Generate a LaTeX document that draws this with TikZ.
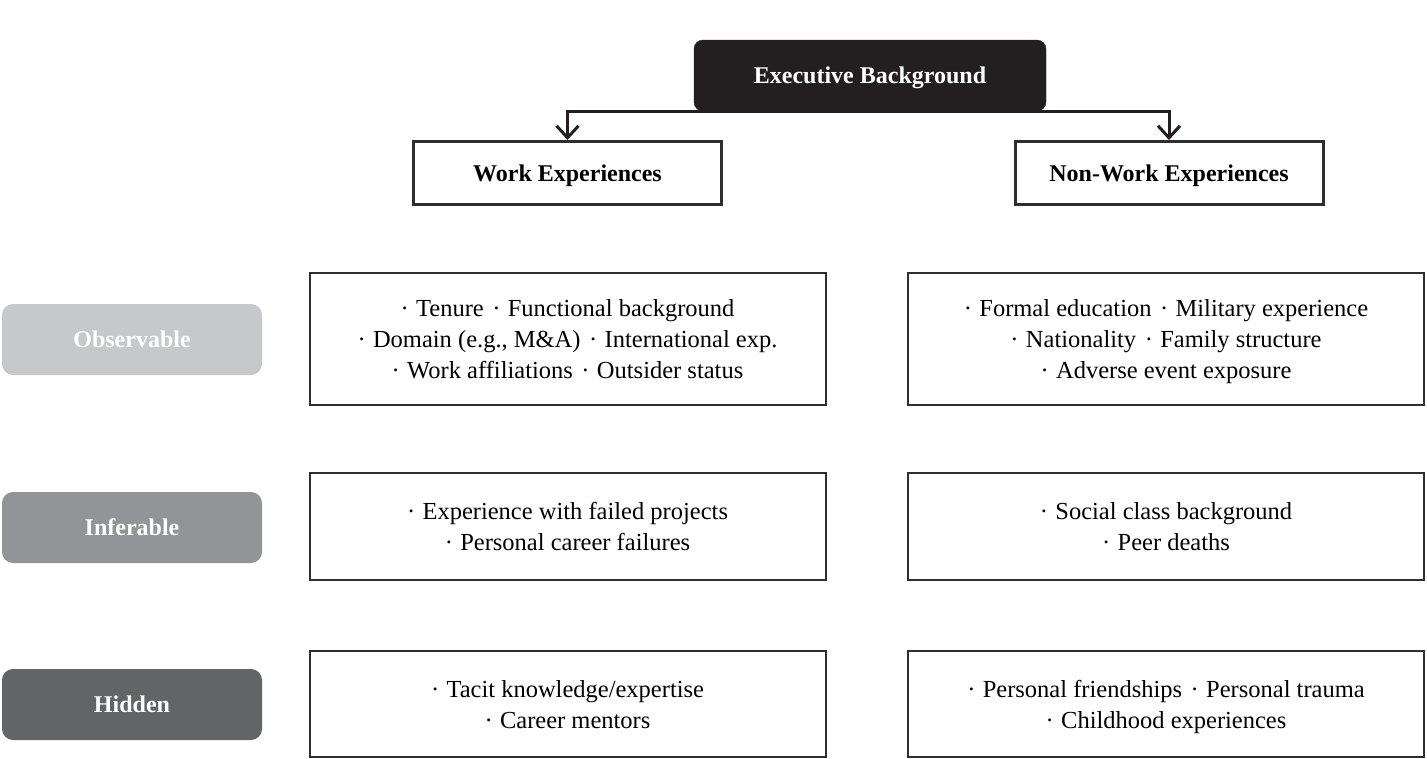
\documentclass[tikz,border=0pt]{standalone}
\usepackage{fontspec}
\setmainfont{Liberation Serif}
\usetikzlibrary{arrows.meta}
\definecolor{obsgray}{HTML}{C7C8CA}
\definecolor{infgray}{HTML}{939497}
\definecolor{hidgray}{HTML}{636466}
\definecolor{execblack}{HTML}{231F20}
\definecolor{edgegray}{HTML}{2E2E2E}
\newcommand{\bul}{·\hspace{0.3em}}
\newcommand{\sep}{\hspace{0.35em}·\hspace{0.3em}}
\tikzset{
  execbox/.style={fill=execblack, draw=execblack, rounded corners=9pt, text=white,
    minimum width=352pt, minimum height=71pt, inner sep=0pt, text depth=0pt,
    font=\fontsize{24}{30}\selectfont\bfseries},
  headbox/.style={draw=edgegray, line width=3pt, fill=white,
    minimum width=308pt, minimum height=63pt, inner sep=0pt, text depth=0pt,
    font=\fontsize{24}{30}\selectfont\bfseries},
  levelbox/.style={rounded corners=11pt, text=white, draw=none,
    minimum width=260pt, minimum height=71pt, inner sep=0pt,
    font=\fontsize{24}{30}\selectfont\bfseries},
  itembox/.style={draw=edgegray, line width=2pt, fill=white, align=center,
    minimum width=516pt, inner sep=0pt, text depth=0pt,
    font=\fontsize{24.5}{31}\selectfont},
  conn/.style={draw=execblack, line width=3pt,
    -{Straight Barb[length=12pt,width=22pt,line width=3pt]}},
}
\begin{document}
\begin{tikzpicture}[x=1pt,y=-1pt]
\useasboundingbox (0,0) rectangle (1427,758);
% top
\node[execbox] (exec) at (870,75.5) {Executive Background};
\node[headbox] (work) at (567.5,173) {Work Experiences};
\node[headbox] (nonwork) at (1169,173) {Non-Work Experiences};
\draw[conn] (exec.south) -| (work.north);
\draw[conn] (exec.south) -| (nonwork.north);
% levels
\node[levelbox, fill=obsgray] (obs) at (132,339.5) {Observable};
\node[levelbox, fill=infgray] (inf) at (132,527.5) {Inferable};
\node[levelbox, fill=hidgray] (hid) at (132,704.5) {Hidden};
% row 1
\node[itembox, minimum height=132pt] (w1) at (567.5,339) {\bul Tenure\sep Functional background\\\bul Domain (e.g., M\&A)\sep International exp.\\\bul Work affiliations\sep Outsider status};
\node[itembox, minimum height=132pt] (n1) at (1166,339) {\bul Formal education\sep Military experience\\\bul Nationality\sep Family structure\\\bul Adverse event exposure};
% row 2
\node[itembox, minimum height=107pt] (w2) at (567.5,526.5) {\bul Experience with failed projects\\\bul Personal career failures};
\node[itembox, minimum height=107pt] (n2) at (1166,526.5) {\bul Social class background\\\bul Peer deaths};
% row 3
\node[itembox, minimum height=106pt] (w3) at (567.5,704) {\bul Tacit knowledge/expertise\\\bul Career mentors};
\node[itembox, minimum height=106pt] (n3) at (1166,704) {\bul Personal friendships\sep Personal trauma\\\bul Childhood experiences};
\end{tikzpicture}
\end{document}
